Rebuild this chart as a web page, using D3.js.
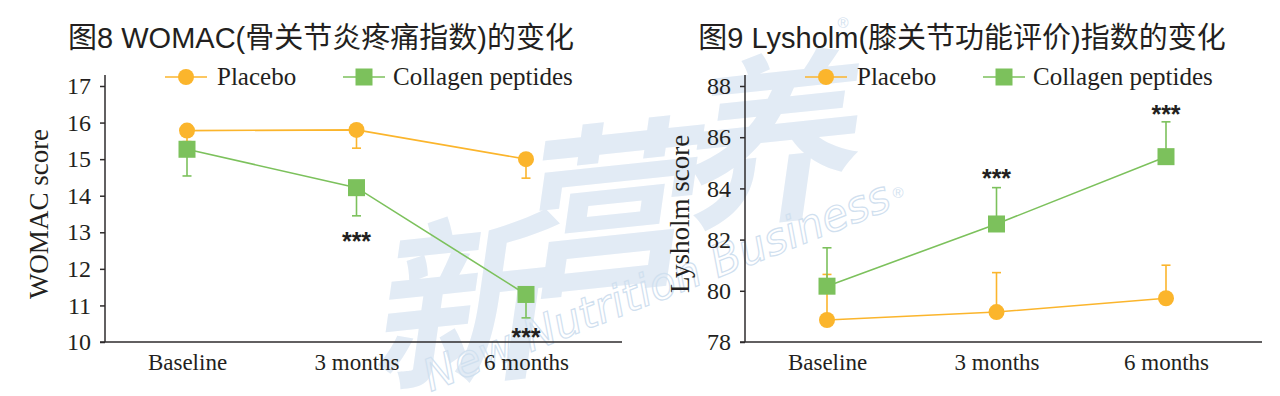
<!DOCTYPE html>
<html><head><meta charset="utf-8">
<script src="https://cdn.jsdelivr.net/npm/d3@7"></script>
<style>body{margin:0;background:#fff;} svg{display:block}</style>
</head><body>
<svg id="c" width="1280" height="396"></svg>
<script>
// ---- data ----
const categories = ["Baseline", "3 months", "6 months"];
const seriesNames = ["Placebo", "Collagen peptides"];

const womacPlacebo = [15.78, 15.80, 15.00];
const womacPlaceboErr = [0.30, 0.50, 0.52];
const womacCollagen = [15.27, 14.22, 11.30];
const womacCollagenErr = [0.73, 0.77, 0.64];
const womacSig = [null, 12.9, 10.28];
const womacTicks = [10, 11, 12, 13, 14, 15, 16, 17];

const lysPlacebo = [78.86, 79.17, 79.71];
const lysPlaceboErr = [1.78, 1.54, 1.29];
const lysCollagen = [80.18, 82.61, 85.24];
const lysCollagenErr = [1.50, 1.42, 1.36];
const lysSig = [null, 84.6, 87.1];
const lysTicks = [78, 80, 82, 84, 86, 88];

const titles = ["图8 WOMAC(骨关节炎疼痛指数)的变化", "图9 Lysholm(膝关节功能评价)指数的变化"];
const yLabels = ["WOMAC score", "Lysholm score"];
const watermarkChars = ["新", "营", "养"];
const watermarkText = "New Nutrition Business";

// ---- style ----
const ORANGE = "#fbb52c", GREEN = "#7cc15c", INK = "#231f20", AXIS = "#2e2b2c", WM = "#e2ebf5";
const SERIF = "'Liberation Serif','Times New Roman',serif";
const SANS = "'Liberation Sans','Noto Sans CJK SC',sans-serif";

const svg = d3.select("#c");

// ---- watermark ----
const wm = svg.append("g");
const wmPos = [[472, 290], [616, 196], [778, 128]];
watermarkChars.forEach((ch, i) => {
  wm.append("text")
    .attr("transform", `translate(${wmPos[i][0]},${wmPos[i][1]}) rotate(-6) skewX(-14)`)
    .attr("text-anchor", "middle").attr("dominant-baseline", "central")
    .attr("font-family", "'Noto Sans CJK SC',sans-serif").attr("font-weight", 700)
    .attr("font-size", 180).attr("fill", WM).text(ch);
});
wm.append("text")
  .attr("transform", "translate(662,300) rotate(-21.6)")
  .attr("text-anchor", "middle")
  .attr("font-family", "'DejaVu Sans',sans-serif").attr("font-style", "italic")
  .attr("font-size", 44).attr("textLength", 498).attr("lengthAdjust", "spacingAndGlyphs")
  .attr("fill", "none").attr("stroke", "#d0e0ef").attr("stroke-width", 1.2)
  .text(watermarkText);
[[898, 192], [843, 22]].forEach(p => {
  wm.append("text").attr("x", p[0]).attr("y", p[1]).attr("text-anchor", "middle")
    .attr("dominant-baseline", "central").attr("font-family", SANS).attr("font-size", 15)
    .attr("fill", "#d3e2f0").text("®");
});

// ---- panels ----
const panels = [
  { ox: 0, title: titles[0], ylab: yLabels[0], domain: [10, 17], ticks: womacTicks,
    pl: womacPlacebo, plE: womacPlaceboErr, co: womacCollagen, coE: womacCollagenErr,
    sig: womacSig, dir: -1, titleX: 321, yLabX: 48 },
  { ox: 640, title: titles[1], ylab: yLabels[1], domain: [78, 88], ticks: lysTicks,
    pl: lysPlacebo, plE: lysPlaceboErr, co: lysCollagen, coE: lysCollagenErr,
    sig: lysSig, dir: 1, titleX: 962, yLabX: 689 }
];

panels.forEach(p => {
  const g = svg.append("g");
  const ax = p.ox + 105, axEnd = p.ox + 622;
  const y = d3.scaleLinear().domain(p.domain).range([342, 86]);
  const x = d3.scalePoint().domain(categories).range([p.ox + 187, p.ox + 526]);

  // title
  g.append("text").attr("x", p.titleX).attr("y", 48).attr("text-anchor", "middle")
    .attr("font-family", SANS).attr("font-size", 29).attr("fill", INK).text(p.title);

  // y axis
  const yAxis = d3.axisLeft(y).tickValues(p.ticks).tickFormat(d3.format("d"))
    .tickSize(5).tickPadding(9).tickSizeOuter(0);
  const ya = g.append("g").attr("transform", `translate(${ax},0)`).call(yAxis);
  ya.select(".domain").remove();
  ya.selectAll(".tick line").attr("stroke", AXIS).attr("stroke-width", 1.5);
  ya.selectAll(".tick text").attr("font-family", SERIF).attr("font-size", 24).attr("fill", INK);
  g.append("line").attr("x1", ax).attr("x2", ax).attr("y1", 75).attr("y2", 342)
    .attr("stroke", AXIS).attr("stroke-width", 1.5);

  // x axis
  const xAxis = d3.axisBottom(x).tickSize(0).tickPadding(12);
  const xa = g.append("g").attr("transform", "translate(0,342)").call(xAxis);
  xa.select(".domain").remove();
  xa.selectAll(".tick text").attr("font-family", SERIF).attr("font-size", 23).attr("fill", INK);
  g.append("line").attr("x1", ax - 5).attr("x2", axEnd).attr("y1", 342).attr("y2", 342)
    .attr("stroke", AXIS).attr("stroke-width", 1.5);

  // y label
  g.append("text").attr("transform", `translate(${p.yLabX},214) rotate(-90)`)
    .attr("text-anchor", "middle").attr("font-family", SERIF).attr("font-size", 27)
    .attr("fill", INK).text(p.ylab);

  // series
  const series = [
    { vals: p.pl, err: p.plE, color: ORANGE, shape: "circle" },
    { vals: p.co, err: p.coE, color: GREEN, shape: "square" }
  ];
  const line = d3.line().x((d, i) => x(categories[i])).y(d => y(d));
  series.forEach(s => {
    const sg = g.append("g");
    s.vals.forEach((v, i) => {
      const cx = x(categories[i]);
      const ye = y(v + p.dir * s.err[i]);
      sg.append("line").attr("x1", cx).attr("x2", cx).attr("y1", y(v)).attr("y2", ye)
        .attr("stroke", s.color).attr("stroke-width", 1.6);
      sg.append("line").attr("x1", cx - 4.5).attr("x2", cx + 4.5).attr("y1", ye).attr("y2", ye)
        .attr("stroke", s.color).attr("stroke-width", 1.6);
    });
    sg.append("path").attr("d", line(s.vals)).attr("fill", "none")
      .attr("stroke", s.color).attr("stroke-width", 1.6);
    s.vals.forEach((v, i) => {
      const cx = x(categories[i]), cy = y(v);
      if (s.shape === "circle") {
        sg.append("circle").attr("cx", cx).attr("cy", cy).attr("r", 8).attr("fill", s.color);
      } else {
        sg.append("rect").attr("x", cx - 8.5).attr("y", cy - 8.5).attr("width", 17).attr("height", 17)
          .attr("fill", s.color);
      }
    });
  });

  // significance
  p.sig.forEach((v, i) => {
    if (v == null) return;
    g.append("text").attr("x", x(categories[i])).attr("y", y(v) + 14)
      .attr("text-anchor", "middle").attr("font-family", SANS).attr("font-weight", "bold")
      .attr("font-size", 25).attr("fill", INK).text("***");
  });

  // legend
  const lg = g.append("g");
  const legendItems = [
    { name: seriesNames[0], color: ORANGE, shape: "circle", x0: p.ox + 165, tx: p.ox + 217 },
    { name: seriesNames[1], color: GREEN, shape: "square", x0: p.ox + 343, tx: p.ox + 393 }
  ];
  legendItems.forEach(it => {
    lg.append("line").attr("x1", it.x0).attr("x2", it.x0 + 42).attr("y1", 77).attr("y2", 77)
      .attr("stroke", it.color).attr("stroke-width", 1.6);
    if (it.shape === "circle") {
      lg.append("circle").attr("cx", it.x0 + 21).attr("cy", 77).attr("r", 8).attr("fill", it.color);
    } else {
      lg.append("rect").attr("x", it.x0 + 12.5).attr("y", 68.5).attr("width", 17).attr("height", 17).attr("fill", it.color);
    }
    lg.append("text").attr("x", it.tx).attr("y", 85).attr("font-family", SERIF)
      .attr("font-size", 25).attr("fill", INK).text(it.name);
  });
});
</script>
</body></html>
